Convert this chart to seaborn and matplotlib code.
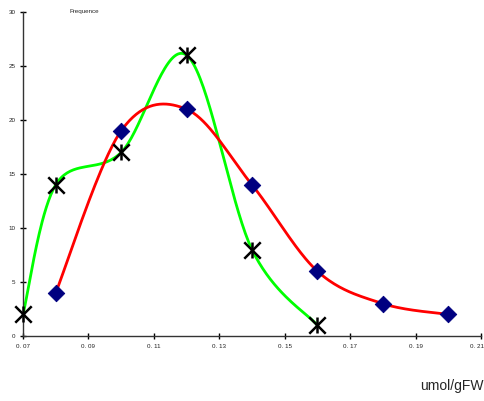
import numpy as np
import pandas as pd
import matplotlib
matplotlib.use("Agg")
import matplotlib.pyplot as plt
import matplotlib.transforms as mtransforms
import seaborn as sns

# data
green_x = [0.07, 0.08, 0.10, 0.12, 0.14, 0.16]
green_y = [2, 14, 17, 26, 8, 1]
red_x = [0.08, 0.10, 0.12, 0.14, 0.16, 0.18, 0.20]
red_y = [4, 19, 21, 14, 6, 3, 2]
x_ticks = [0.07, 0.09, 0.11, 0.13, 0.15, 0.17, 0.19, 0.21]
y_ticks = [0, 5, 10, 15, 20, 25, 30]

XMIN, XMAX, YMIN, YMAX = 0.07, 0.21, 0, 30

sns.set_theme(style="white")
plt.rcParams["font.family"] = ["Liberation Sans", "DejaVu Sans"]


def smooth(xs, ys, n=40):
    # Excel-like smoothed line: cubic Bezier segments, computed in screen-ish units
    sx, sy = 458 / (XMAX - XMIN), 324 / (YMAX - YMIN)
    p = np.column_stack([(np.array(xs) - XMIN) * sx, (np.array(ys) - YMIN) * sy])
    p = np.vstack([p[0], p, p[-1]])
    out = []
    t = np.linspace(0, 1, n)[:, None]
    for i in range(1, len(p) - 2):
        p0, p3 = p[i], p[i + 1]
        c1 = p0 + (p[i + 1] - p[i - 1]) / 6
        c2 = p3 - (p[i + 2] - p[i]) / 6
        seg = (1 - t) ** 3 * p0 + 3 * (1 - t) ** 2 * t * c1 + 3 * (1 - t) * t ** 2 * c2 + t ** 3 * p3
        out.append(seg)
    out = np.vstack(out)
    return out[:, 0] / sx + XMIN, out[:, 1] / sy + YMIN


fig = plt.figure(figsize=(4.85, 4.01), dpi=100)
ax = fig.add_axes([0.0474, 0.162, 0.9444, 0.808])

gx, gy = smooth(green_x, green_y)
rx, ry = smooth(red_x, red_y)
sns.lineplot(x=gx, y=gy, ax=ax, color="#00FF00", lw=2, sort=False, estimator=None)
sns.lineplot(x=rx, y=ry, ax=ax, color="#FF0000", lw=2, sort=False, estimator=None)

sns.scatterplot(x=red_x, y=red_y, ax=ax, marker="D", s=70, color="#000080",
                edgecolor="#000080", zorder=5, clip_on=False)
for m in ["x", "|"]:
    ax.scatter(green_x, green_y, marker=m, s=140, color="black", linewidths=1.8,
               zorder=6, clip_on=False)

ax.set_xlim(XMIN, XMAX)
ax.set_ylim(YMIN, YMAX)
ax.set_xticks(x_ticks)
ax.set_xticklabels([f"{v:.2f}".replace(".", ". ") for v in x_ticks])
ax.set_yticks(y_ticks)
ax.tick_params(axis="both", direction="inout", length=5, width=1, labelsize=4.5,
               color="black", labelcolor="#222222", pad=3, bottom=True, left=True)
# keep the last x label inside the figure
last = ax.get_xticklabels()[-1]
last.set_transform(last.get_transform() +
                   mtransforms.ScaledTranslation(-4 / 100, 0, fig.dpi_scale_trans))
for s in ["top", "right"]:
    ax.spines[s].set_visible(False)
for s in ["left", "bottom"]:
    ax.spines[s].set_color("#333333")
    ax.spines[s].set_linewidth(1)
ax.grid(False)
ax.set_xlabel("")
ax.set_ylabel("")

fig.text(70 / 485, 1 - 12 / 401, "Frequence", fontsize=4.5, ha="left", va="center")
fig.text(484 / 485, 1 - 386 / 401, "umol/gFW", fontsize=10, ha="right", va="center")

fig.savefig("out.png", dpi=100, facecolor="white")
